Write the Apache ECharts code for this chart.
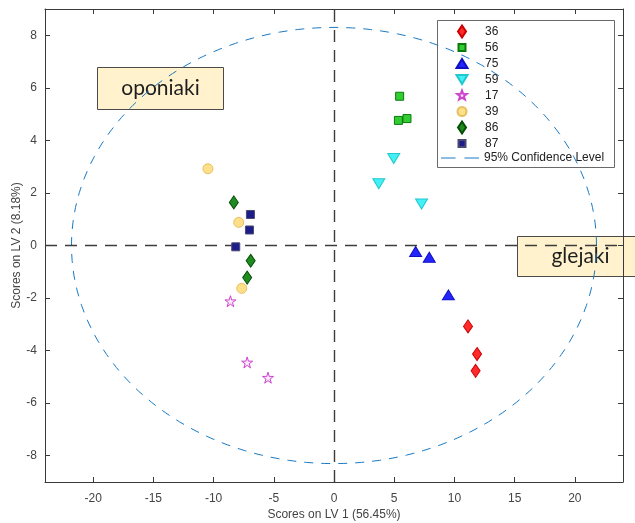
<!DOCTYPE html>
<html>
<head>
<meta charset="utf-8">
<script src="https://cdn.jsdelivr.net/npm/echarts@6/dist/echarts.min.js"></script>
<style>html,body{margin:0;padding:0;background:#fff}#c{width:635px;height:523px}</style>
</head>
<body>
<div id="c"></div>
<script>
// ---- data (Scores on LV1, Scores on LV2) ----
const groupNames = ['36','56','75','59','17','39','86','87'];
const x36 = [11.13, 11.88, 11.76];   const y36 = [-3.08, -4.13, -4.77];
const x56 = [5.45, 5.35, 6.06];      const y56 = [5.68, 4.76, 4.83];
const x75 = [6.78, 7.91, 9.50];      const y75 = [-0.23, -0.45, -1.88];
const x59 = [4.96, 3.72, 7.27];      const y59 = [3.31, 2.35, 1.58];
const x17 = [-8.60, -7.21, -5.48];   const y17 = [-2.12, -4.45, -5.03];
const x39 = [-10.47, -7.91, -7.66];  const y39 = [2.92, 0.88, -1.63];
const x86 = [-8.32, -6.92, -7.21];   const y86 = [1.64, -0.58, -1.22];
const x87 = [-6.94, -7.02, -8.16];   const y87 = [1.18, 0.59, -0.05];
const ellipseRadii = [21.8, 8.3];     // 95% confidence ellipse semi-axes (LV1, LV2)
const xTicks = [-20, -15, -10, -5, 0, 5, 10, 15, 20];
const yTicks = [-8, -6, -4, -2, 0, 2, 4, 6, 8];
const xTitle = 'Scores on LV 1 (56.45%)';
const yTitle = 'Scores on LV 2 (8.18%)';
const ellipseName = '95% Confidence Level';
const boxLabels = ['oponiaki', 'glejaki'];

const pair = (xs, ys) => xs.map((v, i) => [v, ys[i]]);

// series marker shapes
const P = {
  diamond: 'path://M5,0L10,7L5,14L0,7Z',
  square: 'path://M0,0H10V10H0Z',
  triUp: 'path://M6,0L12,10L0,10Z',
  triDown: 'path://M0,0L12,0L6,10Z',
  star: 'path://M50,0L61,35L98,35L68,57L79,91L50,70L21,91L32,57L2,35L39,35Z'
};
// legend icons: padded to a 26x13 box, shape centred at x=8
const PAD = 'M0,0M26,13';
const L = {
  diamond: 'path://' + PAD + 'M8,0.5L12,6.5L8,12.5L4,6.5Z',
  square: 'path://' + PAD + 'M4.5,3H11.5V10H4.5Z',
  triUp: 'path://' + PAD + 'M8,2L13.5,11L2.5,11Z',
  triDown: 'path://' + PAD + 'M2.5,2H13.5L8,11Z',
  star: 'path://' + PAD + 'M8,1.5L9.23,4.8L12.76,4.96L10,7.15L10.94,10.55L8,8.6L5.06,10.55L6,7.15L3.24,4.96L6.77,4.8Z',
  circle: 'path://' + PAD + 'M3.5,6.5A4.5,4.5 0 1 0 12.5,6.5A4.5,4.5 0 1 0 3.5,6.5Z'
};

const styles = {
  '36': {data: pair(x36, y36), symbol: P.diamond, icon: L.diamond, size: [9, 13], color: '#ff2a2a', border: '#cc0000'},
  '56': {data: pair(x56, y56), symbol: P.square, icon: L.square, size: [8, 8], color: '#33cc33', border: '#0b7a0b'},
  '75': {data: pair(x75, y75), symbol: P.triUp, icon: L.triUp, size: [12, 10], color: '#2424ff', border: '#1010c0'},
  '59': {data: pair(x59, y59), symbol: P.triDown, icon: L.triDown, size: [12, 10], color: '#44f0f4', border: '#20c8d0'},
  '17': {data: pair(x17, y17), symbol: P.star, icon: L.star, size: [11, 11], color: '#fbe6fb', border: '#cc44cc'},
  '39': {data: pair(x39, y39), symbol: 'circle', icon: L.circle, size: 10, color: '#ffe08a', border: '#e5c060'},
  '86': {data: pair(x86, y86), symbol: P.diamond, icon: L.diamond, size: [9, 13], color: '#1e8c1e', border: '#064d06'},
  '87': {data: pair(x87, y87), symbol: P.square, icon: L.square, size: [8, 8], color: '#1c1c8a', border: '#4a4a70'}
};

const ellipseData = [];
for (let d = 0; d <= 360; d += 2) {
  const t = d * Math.PI / 180;
  ellipseData.push([ellipseRadii[0] * Math.cos(t), ellipseRadii[1] * Math.sin(t)]);
}

const FONT = 'Liberation Sans';
const axisColor = '#3a3a3a';
const ellipseColor = '#1a7ac4';

const series = [{
  name: ellipseName,
  type: 'line',
  data: ellipseData,
  showSymbol: false,
  symbol: 'none',
  smooth: false,
  silent: true,
  z: 1,
  lineStyle: {color: ellipseColor, width: 1, type: [9, 8]},
  itemStyle: {color: ellipseColor, borderWidth: 0},
  markLine: {
    silent: true,
    symbol: 'none',
    label: {show: false},
    lineStyle: {color: '#3c3c3c', width: 1.4, type: [12, 8]},
    data: [{xAxis: 0}, {yAxis: 0}]
  }
}];

groupNames.forEach(g => {
  const s = styles[g];
  series.push({
    name: g,
    type: 'scatter',
    data: s.data,
    symbol: s.symbol,
    symbolSize: s.size,
    z: 5,
    itemStyle: {color: s.color, borderColor: s.border, borderWidth: 1, opacity: 1}
  });
});

const chart = echarts.init(document.getElementById('c'), null, {renderer: 'canvas'});

const axisCommon = {
  type: 'value',
  axisLine: {show: true, onZero: false, lineStyle: {color: axisColor, width: 1}},
  axisTick: {show: true, inside: true, length: 5, lineStyle: {color: axisColor}},
  splitLine: {show: false}
};

chart.setOption({
  animation: false,
  backgroundColor: '#ffffff',
  grid: {left: 45, top: 9, right: 12, bottom: 41, containLabel: false, outerBoundsMode: 'none'},
  xAxis: [
    Object.assign({}, axisCommon, {
      position: 'bottom', min: -24, max: 24,
      axisTick: Object.assign({}, axisCommon.axisTick, {customValues: xTicks}),
      axisLabel: {customValues: xTicks, color: '#444', fontFamily: FONT, fontSize: 12, margin: 11},
      name: xTitle, nameLocation: 'middle', nameGap: 27, nameMoveOverlap: false,
      nameTextStyle: {color: '#444', fontFamily: FONT, fontSize: 12}
    }),
    Object.assign({}, axisCommon, {
      position: 'top', min: -24, max: 24,
      axisTick: Object.assign({}, axisCommon.axisTick, {customValues: xTicks}),
      axisLabel: {show: false, customValues: xTicks}
    })
  ],
  yAxis: [
    Object.assign({}, axisCommon, {
      position: 'left', min: -9, max: 9,
      axisTick: Object.assign({}, axisCommon.axisTick, {customValues: yTicks}),
      axisLabel: {customValues: yTicks, color: '#444', fontFamily: FONT, fontSize: 12, margin: 8},
      name: yTitle, nameLocation: 'middle', nameGap: 22, nameMoveOverlap: false,
      nameTextStyle: {color: '#444', fontFamily: FONT, fontSize: 12}
    }),
    Object.assign({}, axisCommon, {
      position: 'right', min: -9, max: 9,
      axisTick: Object.assign({}, axisCommon.axisTick, {customValues: yTicks}),
      axisLabel: {show: false, customValues: yTicks}
    })
  ],
  legend: [
    {
      data: groupNames.map(g => ({name: g, icon: styles[g].icon})),
      orient: 'vertical',
      left: 453, top: 24,
      itemWidth: 26, itemHeight: 13, itemGap: 1,
      padding: 0,
      selectedMode: false,
      symbolKeepAspect: true,
      textStyle: {color: '#222', fontFamily: FONT, fontSize: 12}
    },
    {
      data: [{name: ellipseName, icon: 'path://M0,5.5H13V6.5H0ZM21,5.5H34V6.5H21Z'}],
      orient: 'vertical',
      left: 441, top: 152,
      itemWidth: 38, itemHeight: 13,
      padding: 0,
      selectedMode: false,
      symbolKeepAspect: true,
      textStyle: {color: '#222', fontFamily: FONT, fontSize: 12}
    }
  ],
  graphic: [
    {type: 'rect', left: 437, top: 20, z: 0, silent: true,
      shape: {width: 177, height: 147},
      style: {fill: '#ffffff', stroke: '#6a6a6a', lineWidth: 1}},
    {type: 'group', left: 97, top: 67, z: 10, children: [
      {type: 'rect', shape: {x: 0, y: 0, width: 126, height: 42},
        style: {fill: '#fff2cc', stroke: '#4a4a4a', lineWidth: 1}},
      {type: 'text', x: 63, y: 21, style: {text: boxLabels[0], fill: '#1e1e1e',
        font: '21px Lato', align: 'center', verticalAlign: 'middle'}}
    ]},
    {type: 'group', left: 517, top: 236, z: 10, children: [
      {type: 'rect', shape: {x: 0, y: 0, width: 126, height: 40},
        style: {fill: '#fff2cc', stroke: '#4a4a4a', lineWidth: 1}},
      {type: 'text', x: 63, y: 20, style: {text: boxLabels[1], fill: '#1e1e1e',
        font: '21px Lato', align: 'center', verticalAlign: 'middle'}}
    ]}
  ],
  series: series
});
</script>
</body>
</html>
